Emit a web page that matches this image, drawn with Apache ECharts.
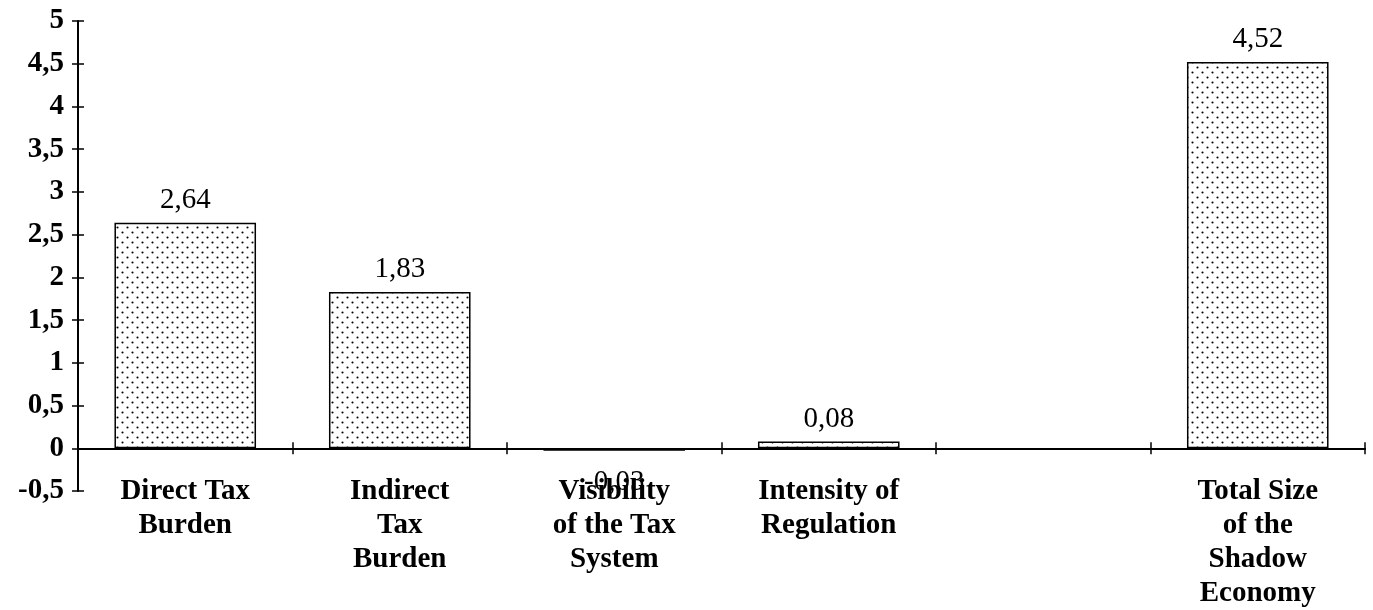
<!DOCTYPE html>
<html>
<head>
<meta charset="utf-8">
<script src="https://cdn.jsdelivr.net/npm/echarts@6/dist/echarts.min.js"></script>
<style>
html,body{margin:0;padding:0;background:#fff;}
#chart{width:1373px;height:610px;}
</style>
</head>
<body>
<div id="chart"></div>
<script>
const categories = ['Direct Tax\nBurden', 'Indirect\nTax\nBurden', 'Visibility\nof the Tax\nSystem', 'Intensity of\nRegulation', '', 'Total Size\nof the\nShadow\nEconomy'];
const values = [2.64, 1.83, -0.03, 0.08, null, 4.52];
const yMin = -0.5, yMax = 5, yStep = 0.5;

const FONT = '"Liberation Serif", "Times New Roman", serif';
const gridLeft = 78, gridRight = 8, gridTop = 21, gridBottom = 119;
const gridWidth = 1373 - gridLeft - gridRight;

// dotted fill pattern
const tile = document.createElement('canvas');
tile.width = 10; tile.height = 10;
const ctx = tile.getContext('2d');
ctx.fillStyle = '#fff';
ctx.fillRect(0, 0, 10, 10);
ctx.fillStyle = '#000';
ctx.beginPath(); ctx.arc(2.5, 2.5, 1.05, 0, Math.PI * 2); ctx.fill();
ctx.beginPath(); ctx.arc(7.5, 7.5, 1.05, 0, Math.PI * 2); ctx.fill();

const fmt = v => String(v).replace('.', ',');

const chart = echarts.init(document.getElementById('chart'), null, {renderer: 'canvas'});
chart.setOption({
  animation: false,
  backgroundColor: '#fff',
  grid: {left: gridLeft, right: gridRight, top: gridTop, bottom: gridBottom, containLabel: false, outerBoundsMode: 'none'},
  xAxis: [{
    type: 'category',
    data: categories,
    position: 'bottom',
    axisLine: {onZero: true, lineStyle: {color: '#000', width: 2}},
    axisTick: {show: true, alignWithLabel: false, length: 6, lineStyle: {color: '#000', width: 1.5}},
    axisLabel: {
      interval: 0, margin: -16, color: '#000',
      fontFamily: FONT, fontWeight: 'bold', fontSize: 29, lineHeight: 34
    },
    splitLine: {show: false}
  }, {
    type: 'category',
    data: categories,
    position: 'top',
    axisLine: {onZero: true, lineStyle: {color: '#000', width: 2}},
    axisTick: {show: true, length: 6, lineStyle: {color: '#000', width: 1.5}},
    axisLabel: {show: false},
    splitLine: {show: false}
  }],
  yAxis: [{
    type: 'value',
    min: yMin, max: yMax, interval: yStep,
    position: 'left',
    axisLine: {show: true, lineStyle: {color: '#000', width: 2}},
    axisTick: {show: true, length: 6, lineStyle: {color: '#000', width: 1.5}},
    axisLabel: {
      margin: 14, color: '#000', fontFamily: FONT, fontWeight: 'bold', fontSize: 29,
      formatter: v => fmt(v)
    },
    splitLine: {show: false}
  }, {
    type: 'value',
    min: yMin, max: yMax, interval: yStep,
    position: 'right',
    offset: -gridWidth,
    axisLine: {show: false},
    axisTick: {show: true, length: 6, lineStyle: {color: '#000', width: 1.5}},
    axisLabel: {show: false},
    splitLine: {show: false}
  }],
  series: [{
    type: 'bar',
    xAxisIndex: 0,
    yAxisIndex: 0,
    barWidth: '66%',
    data: values.map(v => v === null ? '-' : (v < 0 ? {value: v, label: {position: 'bottom', distance: 17}} : v)),
    itemStyle: {
      color: {image: tile, repeat: 'repeat'},
      borderColor: '#000',
      borderWidth: 1.5
    },
    label: {
      show: true, position: 'top', distance: 8,
      color: '#000', fontFamily: FONT, fontSize: 29,
      formatter: p => fmt(p.value)
    }
  }]
});
</script>
</body>
</html>
